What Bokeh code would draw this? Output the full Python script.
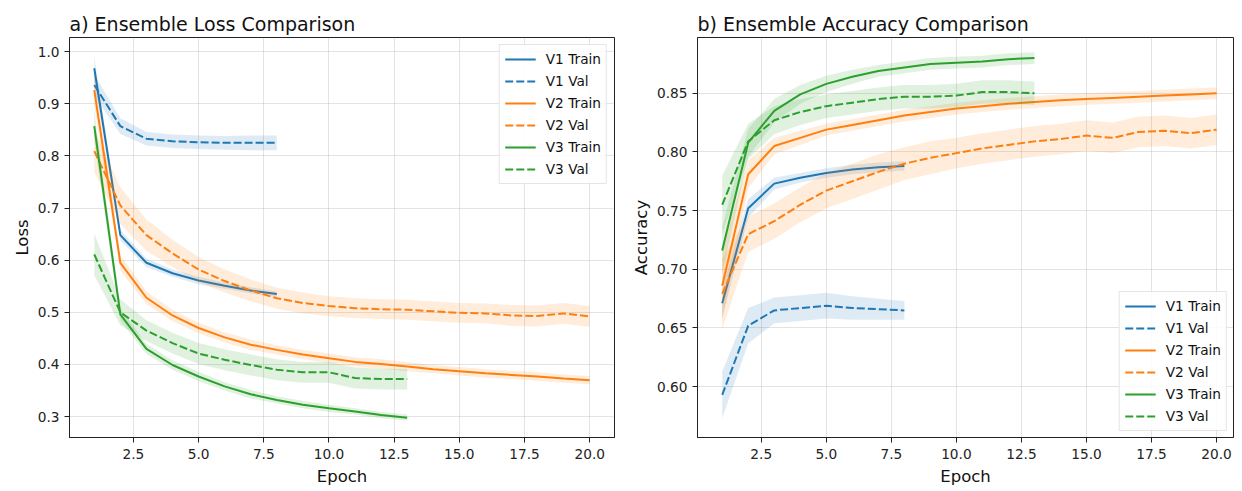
from bokeh.plotting import figure
from bokeh.layouts import row
from bokeh.models import FixedTicker, NumeralTickFormatter, Range1d
from bokeh.embed import file_html
from bokeh.resources import INLINE

# ---------------- data ----------------
epochs_v1 = [1, 2, 3, 4, 5, 6, 7, 8]
epochs_v2 = [1, 2, 3, 4, 5, 6, 7, 8, 9, 10, 11, 12, 13, 14, 15, 16, 17, 18, 19, 20]
epochs_v3 = [1, 2, 3, 4, 5, 6, 7, 8, 9, 10, 11, 12, 13]

# Loss (mean and std across ensemble)
loss_v1_train = [0.968, 0.648, 0.595, 0.575, 0.561, 0.551, 0.542, 0.535]
loss_v1_train_std = [0.022, 0.010, 0.008, 0.007, 0.007, 0.006, 0.006, 0.005]
loss_v1_val = [0.936, 0.857, 0.833, 0.828, 0.826, 0.825, 0.825, 0.825]
loss_v1_val_std = [0.020, 0.015, 0.013, 0.013, 0.013, 0.013, 0.014, 0.014]

loss_v2_train = [0.926, 0.595, 0.528, 0.494, 0.470, 0.452, 0.438, 0.428, 0.419, 0.412,
                 0.405, 0.401, 0.396, 0.391, 0.387, 0.383, 0.380, 0.377, 0.373, 0.370]
loss_v2_train_std = [0.030, 0.015, 0.012, 0.011, 0.010, 0.010, 0.010, 0.009, 0.009, 0.009,
                     0.009, 0.009, 0.009, 0.008, 0.008, 0.008, 0.008, 0.008, 0.008, 0.008]
loss_v2_val = [0.809, 0.705, 0.648, 0.613, 0.582, 0.560, 0.542, 0.527, 0.518, 0.512,
               0.508, 0.506, 0.505, 0.502, 0.499, 0.498, 0.494, 0.493, 0.498, 0.492]
loss_v2_val_std = [0.040, 0.035, 0.030, 0.026, 0.024, 0.022, 0.021, 0.020, 0.020, 0.019,
                   0.019, 0.019, 0.019, 0.019, 0.019, 0.019, 0.020, 0.020, 0.020, 0.020]

loss_v3_train = [0.857, 0.496, 0.430, 0.399, 0.377, 0.358, 0.343, 0.332, 0.323, 0.316,
                 0.310, 0.303, 0.298]
loss_v3_train_std = [0.030, 0.012, 0.010, 0.009, 0.009, 0.008, 0.008, 0.007, 0.007, 0.007,
                     0.006, 0.006, 0.006]
loss_v3_val = [0.611, 0.500, 0.465, 0.441, 0.421, 0.409, 0.399, 0.390, 0.385, 0.385,
               0.374, 0.372, 0.372]
loss_v3_val_std = [0.040, 0.025, 0.020, 0.020, 0.020, 0.020, 0.020, 0.020, 0.020, 0.020,
                   0.020, 0.020, 0.020]

# Accuracy (mean and std across ensemble)
acc_v1_train = [0.671, 0.752, 0.773, 0.778, 0.782, 0.785, 0.787, 0.788]
acc_v1_train_std = [0.012, 0.008, 0.005, 0.004, 0.004, 0.004, 0.004, 0.004]
acc_v1_val = [0.593, 0.652, 0.665, 0.667, 0.669, 0.667, 0.666, 0.665]
acc_v1_val_std = [0.020, 0.015, 0.011, 0.011, 0.011, 0.010, 0.009, 0.008]

acc_v2_train = [0.686, 0.781, 0.805, 0.812, 0.819, 0.823, 0.827, 0.831, 0.834, 0.837,
                0.839, 0.841, 0.8425, 0.844, 0.845, 0.846, 0.847, 0.848, 0.849, 0.850]
acc_v2_train_std = [0.030, 0.012, 0.007, 0.006, 0.005, 0.005, 0.005, 0.005, 0.005, 0.005,
                    0.005, 0.005, 0.005, 0.005, 0.005, 0.005, 0.005, 0.005, 0.005, 0.005]
acc_v2_val = [0.679, 0.730, 0.741, 0.755, 0.767, 0.775, 0.783, 0.790, 0.795, 0.799,
              0.803, 0.806, 0.809, 0.811, 0.814, 0.812, 0.817, 0.818, 0.816, 0.819]
acc_v2_val_std = [0.030, 0.015, 0.015, 0.015, 0.015, 0.015, 0.015, 0.014, 0.014, 0.013,
                  0.013, 0.013, 0.013, 0.013, 0.013, 0.013, 0.013, 0.013, 0.013, 0.013]

acc_v3_train = [0.716, 0.808, 0.835, 0.849, 0.858, 0.864, 0.869, 0.872, 0.875, 0.876,
                0.877, 0.879, 0.880]
acc_v3_train_std = [0.020, 0.012, 0.010, 0.008, 0.007, 0.006, 0.005, 0.005, 0.005, 0.005,
                    0.005, 0.005, 0.005]
acc_v3_val = [0.755, 0.809, 0.827, 0.834, 0.839, 0.842, 0.845, 0.847, 0.847, 0.848,
              0.851, 0.851, 0.850]
acc_v3_val_std = [0.025, 0.015, 0.012, 0.011, 0.010, 0.010, 0.010, 0.010, 0.010, 0.010,
                  0.010, 0.010, 0.010]

x_ticks = [2.5, 5.0, 7.5, 10.0, 12.5, 15.0, 17.5, 20.0]
loss_ticks = [0.3, 0.4, 0.5, 0.6, 0.7, 0.8, 0.9, 1.0]
acc_ticks = [0.60, 0.65, 0.70, 0.75, 0.80, 0.85]

BLUE, ORANGE, GREEN = "#1f77b4", "#ff7f0e", "#2ca02c"
FONT = "DejaVu Sans"


def style(p, title, ylabel, yticks, yfmt):
    p.title.text = title
    p.title.text_font = FONT
    p.title.text_font_size = "19px"
    p.title.text_font_style = "normal"
    p.title.text_color = "#111111"
    p.title.align = "left"
    p.title.standoff = 5
    p.xaxis.axis_label = "Epoch"
    p.yaxis.axis_label = ylabel
    for ax in (p.xaxis, p.yaxis):
        ax.axis_label_text_font = FONT
        ax.axis_label_text_font_size = "16.5px"
        ax.axis_label_text_font_style = "normal"
        ax.axis_label_text_color = "#111111"
        ax.axis_label_standoff = 3
        ax.major_label_text_font = FONT
        ax.major_label_text_font_size = "13.7px"
        ax.major_label_text_color = "#222222"
        ax.major_label_standoff = 5
        ax.major_tick_out = 5
        ax.major_tick_in = 0
        ax.minor_tick_line_color = None
        ax.axis_line_color = "#222222"
        ax.major_tick_line_color = "#222222"
    p.xaxis.major_label_standoff = 6
    p.xaxis.axis_label_standoff = 5
    p.xaxis.ticker = FixedTicker(ticks=x_ticks)
    p.xaxis.formatter = NumeralTickFormatter(format="0.0")
    p.yaxis.ticker = FixedTicker(ticks=yticks)
    p.yaxis.formatter = NumeralTickFormatter(format=yfmt)
    p.xgrid.ticker = FixedTicker(ticks=x_ticks)
    p.ygrid.ticker = FixedTicker(ticks=yticks)
    p.grid.grid_line_color = "#b0b0b0"
    p.grid.grid_line_alpha = 0.35
    p.outline_line_color = "#222222"
    p.outline_line_width = 1
    p.outline_line_alpha = 1


def add_series(p, x, y, s, color, dash, label):
    lo = [a - b for a, b in zip(y, s)]
    hi = [a + b for a, b in zip(y, s)]
    p.varea(x=x, y1=lo, y2=hi, fill_color=color, fill_alpha=0.15)
    p.line(x, y, line_color=color, line_width=2, line_dash=dash, legend_label=label)


def style_legend(p, loc, margin):
    lg = p.legend[0]
    lg.location = loc
    lg.label_text_font = FONT
    lg.label_text_font_size = "13.7px"
    lg.label_text_color = "#111111"
    lg.glyph_width = 31
    lg.glyph_height = 14
    lg.label_height = 18
    lg.spacing = 4
    lg.padding = 5
    lg.margin = margin
    lg.label_standoff = 10
    lg.border_line_color = "#cccccc"
    lg.border_line_width = 1
    lg.background_fill_alpha = 0.85


p1 = figure(width=629, height=490, output_backend="svg", toolbar_location=None,
            x_range=Range1d(0.05, 20.95), y_range=Range1d(0.26, 1.027),
            min_border_left=69, min_border_right=15, min_border_top=37, min_border_bottom=53)
add_series(p1, epochs_v1, loss_v1_train, loss_v1_train_std, BLUE, "solid", "V1 Train")
add_series(p1, epochs_v1, loss_v1_val, loss_v1_val_std, BLUE, "8 3", "V1 Val")
add_series(p1, epochs_v2, loss_v2_train, loss_v2_train_std, ORANGE, "solid", "V2 Train")
add_series(p1, epochs_v2, loss_v2_val, loss_v2_val_std, ORANGE, "8 3", "V2 Val")
add_series(p1, epochs_v3, loss_v3_train, loss_v3_train_std, GREEN, "solid", "V3 Train")
add_series(p1, epochs_v3, loss_v3_val, loss_v3_val_std, GREEN, "8 3", "V3 Val")
style(p1, "a) Ensemble Loss Comparison", "Loss", loss_ticks, "0.0")
style_legend(p1, "top_right", 7)

p2 = figure(width=612, height=490, output_backend="svg", toolbar_location=None,
            x_range=Range1d(0.05, 20.65), y_range=Range1d(0.5567, 0.8975),
            min_border_left=68, min_border_right=8, min_border_top=37, min_border_bottom=53)
add_series(p2, epochs_v1, acc_v1_train, acc_v1_train_std, BLUE, "solid", "V1 Train")
add_series(p2, epochs_v1, acc_v1_val, acc_v1_val_std, BLUE, "8 3", "V1 Val")
add_series(p2, epochs_v2, acc_v2_train, acc_v2_train_std, ORANGE, "solid", "V2 Train")
add_series(p2, epochs_v2, acc_v2_val, acc_v2_val_std, ORANGE, "8 3", "V2 Val")
add_series(p2, epochs_v3, acc_v3_train, acc_v3_train_std, GREEN, "solid", "V3 Train")
add_series(p2, epochs_v3, acc_v3_val, acc_v3_val_std, GREEN, "8 3", "V3 Val")
style(p2, "b) Ensemble Accuracy Comparison", "Accuracy", acc_ticks, "0.00")
style_legend(p2, "bottom_right", 6)

layout = row(p1, p2)
open("out.html", "w").write(file_html(layout, INLINE))
